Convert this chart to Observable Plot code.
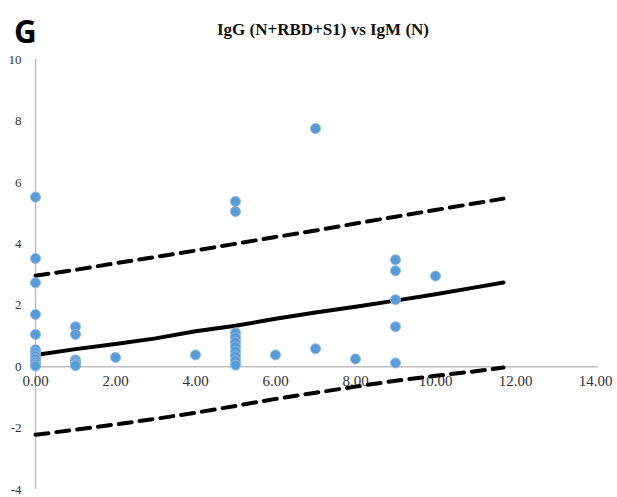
<!DOCTYPE html>
<html>
<head>
<meta charset="utf-8">
<script src="https://cdn.jsdelivr.net/npm/d3@7"></script>
<script src="https://cdn.jsdelivr.net/npm/@observablehq/plot@0.6"></script>
<style>
  body { margin: 0; background: #fff; }
  #wrap { position: relative; width: 617px; height: 497px; }
  #panel { position: absolute; left: 14px; top: 14px; font-family: "Open Sans", "Liberation Sans", sans-serif; font-weight: bold; font-size: 33px; color: #000; line-height: 1; transform: scaleX(0.95); transform-origin: left; }
  #title { position: absolute; left: 0; width: 646px; top: 20px; text-align: center; font-family: "Liberation Serif", serif; font-weight: bold; font-size: 17px; color: #111; }
  #chart { position: absolute; left: 0; top: 0; }
</style>
</head>
<body>
<div id="wrap">
  <div id="chart"></div>
  <div id="panel">G</div>
  <div id="title">IgG (N+RBD+S1) vs IgM (N)</div>
</div>
<script>
// tick values
const xTicks = [0, 2, 4, 6, 8, 10, 12, 14];
const yTicks = [-4, -2, 0, 2, 4, 6, 8, 10];

// scatter points: IgM (N) on x, IgG (N+RBD+S1) on y
const pointsX = [
  0, 0, 0, 0, 0, 0, 0, 0, 0, 0, 0, 0,
  1, 1, 1, 1, 1, 1,
  2,
  4,
  5, 5, 5, 5, 5, 5, 5, 5, 5, 5,
  6,
  7, 7,
  8,
  9, 9, 9, 9, 9,
  10
];
const pointsY = [
  5.52, 3.52, 2.73, 1.7, 1.05, 0.55, 0.45, 0.35, 0.25, 0.15, 0.08, 0.02,
  1.3, 1.05, 0.22, 0.15, 0.08, 0.03,
  0.3,
  0.38,
  5.38, 5.05, 1.1, 0.95, 0.8, 0.65, 0.5, 0.35, 0.2, 0.05,
  0.38,
  7.75, 0.58,
  0.25,
  3.48, 3.12, 2.18, 1.3, 0.12,
  2.95
];

// regression line and prediction bounds
const fitX   = [0, 1, 2, 3, 4, 5, 6, 7, 8, 9, 10, 11, 11.7];
const fitY   = [0.38, 0.57, 0.74, 0.92, 1.15, 1.33, 1.56, 1.76, 1.95, 2.15, 2.36, 2.58, 2.74];
const upperY = [2.96, 3.15, 3.37, 3.57, 3.78, 4.0, 4.22, 4.43, 4.66, 4.88, 5.1, 5.32, 5.47];
const lowerY = [-2.22, -2.05, -1.88, -1.7, -1.5, -1.28, -1.05, -0.85, -0.65, -0.46, -0.3, -0.15, -0.03];

const points = pointsX.map((x, i) => ({x, y: pointsY[i]}));
const fit = fitX.map((x, i) => ({x, y: fitY[i]}));
const upper = fitX.map((x, i) => ({x, y: upperY[i]}));
const lower = fitX.map((x, i) => ({x, y: lowerY[i]}));

const chart = Plot.plot({
  width: 617,
  height: 497,
  marginLeft: 35,
  marginRight: 22,
  marginTop: 59,
  marginBottom: 8,
  style: {fontFamily: "Liberation Serif, serif", fontSize: "13px", color: "#333", background: "transparent"},
  x: {domain: [0, 14], axis: null},
  y: {domain: [-4, 10], axis: null},
  marks: [
    Plot.ruleX([0], {y1: -4, y2: 10, stroke: "#bfbfbf", strokeWidth: 1.5}),
    Plot.ruleY([0], {x1: 0, x2: 14.08, stroke: "#bfbfbf", strokeWidth: 1.5}),
    Plot.text(yTicks, {x: 0, y: d => d, text: d => String(d), textAnchor: "end", dx: -14, fontSize: 13, fill: "#333"}),
    Plot.text(xTicks, {x: d => d, y: 0, text: d => d.toFixed(2), dy: 15, fontSize: 15, fill: "#333"}),
    Plot.line(upper, {x: "x", y: "y", stroke: "#000", strokeWidth: 4, strokeDasharray: "13,8"}),
    Plot.line(lower, {x: "x", y: "y", stroke: "#000", strokeWidth: 4, strokeDasharray: "13,8"}),
    Plot.line(fit, {x: "x", y: "y", stroke: "#000", strokeWidth: 4}),
    Plot.dot(points, {x: "x", y: "y", r: 5, fill: "#5b9bd5", stroke: "#8db8e3", strokeWidth: 1})
  ]
});
document.getElementById("chart").appendChild(chart);
</script>
</body>
</html>
